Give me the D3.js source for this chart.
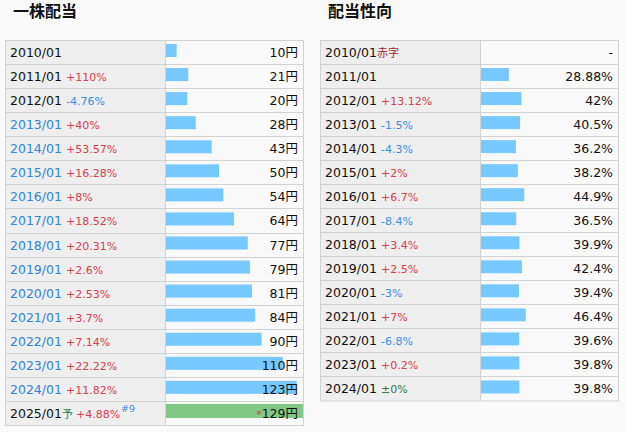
<!DOCTYPE html>
<html>
<head>
<meta charset="utf-8">
<script src="https://cdn.jsdelivr.net/npm/d3@7"></script>
<style>
  body { margin: 0; background: #f9f9f9; }
  svg { display: block; }
  text { font-family: "DejaVu Sans", Verdana, "Noto Sans CJK JP", sans-serif; }
</style>
</head>
<body>
<svg width="625" height="432"></svg>
<script>
// 一株配当
var divYears = ['2010/01','2011/01','2012/01','2013/01','2014/01','2015/01','2016/01','2017/01',
  '2018/01','2019/01','2020/01','2021/01','2022/01','2023/01','2024/01','2025/01']
var dividends = [10, 21, 20, 28, 43, 50, 54, 64, 77, 79, 81, 84, 90, 110, 123, 129]
var divChange = [null, '+110%', '-4.76%', '+40%', '+53.57%', '+16.28%', '+8%', '+18.52%',
  '+20.31%', '+2.6%', '+2.53%', '+3.7%', '+7.14%', '+22.22%', '+11.82%', '+4.88%']
var divLinked = [false, false, false, true, true, true, true, true, true, true, true, true, true, true, true, false]

// 配当性向
var payYears = ['2010/01','2011/01','2012/01','2013/01','2014/01','2015/01','2016/01','2017/01',
  '2018/01','2019/01','2020/01','2021/01','2022/01','2023/01','2024/01']
var payout = [null, 28.88, 42, 40.5, 36.2, 38.2, 44.9, 36.5, 39.9, 42.4, 39.4, 46.4, 39.6, 39.8, 39.8]
var payChange = ['赤字', null, '+13.12%', '-1.5%', '-4.3%', '+2%', '+6.7%', '-8.4%',
  '+3.4%', '+2.5%', '-3%', '+7%', '-6.8%', '+0.2%', '±0%']

var svg = d3.select('svg')
var lineCol = '#d2d2d2'

var changeColor = c => {
  if (c === '赤字') return '#a3282e'
  if (c[0] === '+') return '#d6404f'
  if (c[0] === '-') return '#3f8be6'
  return '#2f7a50'
}

var table = opts => {
  var g = svg.append('g')
  var n = opts.years.length
  var y = d3.scaleBand().domain(opts.years).range([40, opts.bottom])
  var x = d3.scaleLinear().domain([0, opts.max]).range([0, opts.right - opts.mid - 1])

  g.append('text')
    .attr('x', opts.left + 8).attr('y', 17)
    .attr('font-size', 16).attr('font-weight', 'bold')
    .style('font-family', '"Noto Sans CJK JP", sans-serif')
    .attr('fill', '#111')
    .text(opts.title)

  g.append('rect')
    .attr('x', opts.left).attr('y', 40)
    .attr('width', opts.mid - opts.left).attr('height', opts.bottom - 40)
    .attr('fill', '#eeeeee')

  var rows = g.selectAll('.row').data(opts.years).enter().append('g')
    .attr('transform', d => 'translate(0,' + y(d) + ')')

  rows.append('rect')
    .attr('x', opts.mid + 1)
    .attr('y', (d, i) => opts.highlight === i ? 3 : 4)
    .attr('height', (d, i) => opts.highlight === i ? 14 : 13)
    .attr('width', (d, i) => opts.values[i] == null ? 0 : x(opts.values[i]))
    .attr('fill', (d, i) => opts.highlight === i ? '#80c883' : '#77c8ff')

  var lab = rows.append('text')
    .attr('x', opts.left + 5).attr('y', 17)
    .attr('font-size', 12.5)

  lab.append('tspan')
    .attr('fill', (d, i) => opts.linked && opts.linked[i] ? '#3283d3' : '#111')
    .text(d => d)

  lab.each(function(d, i) {
    var t = d3.select(this)
    var c = opts.changes[i]
    if (opts.forecast === i) {
      t.append('tspan').attr('fill', '#2f7a50').attr('font-size', 11)
        .style('font-family', '"Noto Sans CJK JP", sans-serif').text('予')
    }
    if (c == null) return
    if (c === '赤字') {
      t.append('tspan').attr('fill', changeColor(c)).attr('font-size', 11)
        .style('font-family', '"Noto Sans CJK JP", sans-serif').text(c)
      return
    }
    t.append('tspan').attr('dx', opts.forecast === i ? 3 : 4)
      .attr('fill', changeColor(c)).attr('font-size', 11).text(c)
    if (opts.forecast === i) {
      t.append('tspan').attr('dx', 1).attr('dy', -6)
        .attr('fill', '#4a86d6').attr('font-size', 9.5).text('#9')
    }
  })

  var val = rows.append('text')
    .attr('x', opts.right - 5).attr('y', 17)
    .attr('text-anchor', 'end')
    .attr('font-size', 12.5)
    .attr('fill', '#111')

  val.each(function(d, i) {
    var t = d3.select(this)
    if (opts.forecast === i) t.append('tspan').attr('fill', '#d6404f').attr('font-size', 11).text('*')
    t.append('tspan').text(opts.format(opts.values[i]))
  })

  // grid lines
  g.selectAll('.hl').data(opts.years.slice(1)).enter().append('line')
    .attr('x1', opts.left).attr('x2', opts.right)
    .attr('y1', d => Math.round(y(d)) + 0.5).attr('y2', d => Math.round(y(d)) + 0.5)
    .attr('stroke', lineCol)
  g.append('line')
    .attr('x1', opts.mid + 0.5).attr('x2', opts.mid + 0.5)
    .attr('y1', 40).attr('y2', opts.bottom)
    .attr('stroke', lineCol)
  g.append('rect')
    .attr('x', opts.left + 0.5).attr('y', 40.5)
    .attr('width', opts.right - opts.left).attr('height', opts.bottom - 40)
    .attr('fill', 'none').attr('stroke', lineCol)
}

table({
  title: '一株配当', years: divYears, values: dividends, changes: divChange, linked: divLinked,
  left: 5, mid: 165, right: 303, bottom: 425, max: 129, forecast: 15, highlight: 15,
  format: v => v + '円'
})

table({
  title: '配当性向', years: payYears, values: payout, changes: payChange,
  left: 320, mid: 480, right: 618, bottom: 400.5, max: 142,
  format: v => v == null ? '-' : v + '%'
})
</script>
</body>
</html>
